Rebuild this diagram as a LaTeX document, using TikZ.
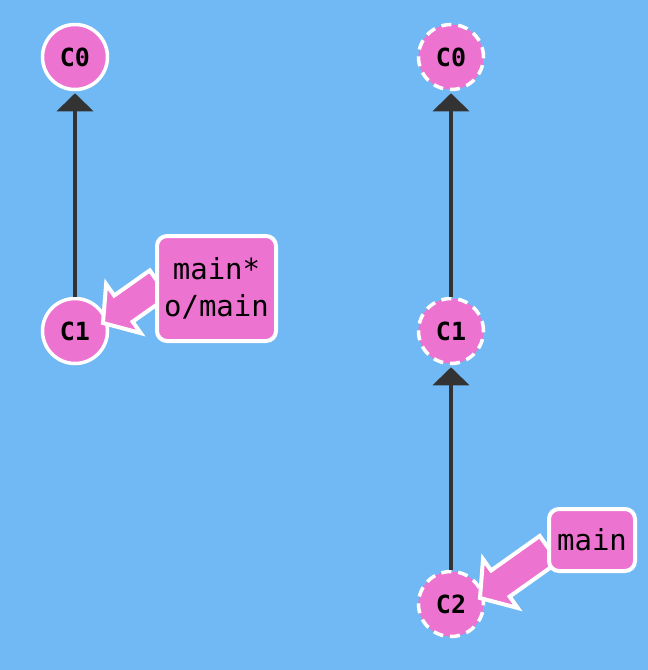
\documentclass[tikz,border=0pt]{standalone}
\usepackage{fontspec}
\setmonofont{DejaVu Sans Mono}
\usetikzlibrary{arrows.meta,calc}

\definecolor{bgblue}{RGB}{113,185,245}
\definecolor{commitpink}{RGB}{237,115,208}
\definecolor{linegray}{RGB}{51,51,51}

\pgfdeclarelayer{back}
\pgfdeclarelayer{mid}
\pgfsetlayers{back,mid,main}

\tikzset{
  commit/.style={circle, fill=commitpink, draw=white, line width=3.5pt,
    minimum size=65pt, inner sep=0pt,
    font=\ttfamily\bfseries\fontsize{25}{25}\selectfont},
  remote/.style={commit, dash pattern=on 10pt off 6.9pt},
  parent/.style={draw=linegray, line width=4pt,
    -{Triangle[width=36pt,length=18pt]}, shorten >=2pt},
  branch/.style={draw=white, fill=commitpink, line width=4pt,
    rounded corners=10pt, inner sep=2pt, align=center,
    font=\ttfamily\fontsize{29}{37}\selectfont},
  fatarrow/.style={draw=white, fill=commitpink, line width=4pt, line join=miter}
}

% #1 = tail (inside the branch box), #2 = tip (on the commit)
\newcommand{\branchptr}[2]{%
  \coordinate (hb) at ($(#2)!25pt!(#1)$);
  \path[fatarrow] (#2) -- ($(hb)!30pt!90:(#2)$) -- ($(hb)!16pt!90:(#2)$)
    -- ($(#1)!16pt!90:(#2)$) -- ($(#1)!16pt!-90:(#2)$)
    -- ($(hb)!16pt!-90:(#2)$) -- ($(hb)!30pt!-90:(#2)$) -- cycle;
}

\begin{document}
\begin{tikzpicture}[x=1pt, y=-1pt]
\begin{pgfonlayer}{back}
\fill[bgblue] (0,0) rectangle (648,670);

% local repository
\node[commit] (c0l) at (75,57) {C0};
\node[commit] (c1l) at (75,331) {C1};
\draw[parent] (c1l) -- (c0l);

% remote repository
\node[remote] (c0r) at (451,57) {C0};
\node[remote] (c1r) at (451,331) {C1};
\node[remote] (c2r) at (451,604) {C2};
\draw[parent] (c1r) -- (c0r);
\draw[parent] (c2r) -- (c1r);
\end{pgfonlayer}

% branch labels
\node[branch, minimum width=119pt, minimum height=105pt] (mainl) at (216.5,288.5) {main*\\o/main};
\node[branch, minimum width=86pt, minimum height=62pt] (mainr) at (592,540) {main};

\begin{pgfonlayer}{mid}
\coordinate (tipl) at ($(c1l)+(28,-8)$);
\coordinate (taill) at ($(mainl.west)+(4,-5)$);
\branchptr{taill}{tipl}
\coordinate (tipr) at ($(c2r)+(29,-6)$);
\coordinate (tailr) at ($(mainr.west)+(2,9)$);
\branchptr{tailr}{tipr}
\end{pgfonlayer}
\end{tikzpicture}
\end{document}
